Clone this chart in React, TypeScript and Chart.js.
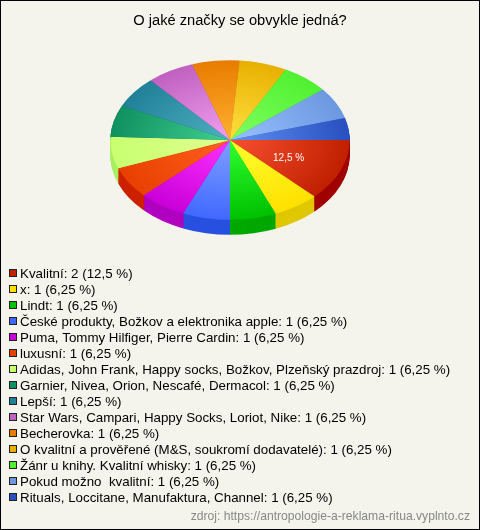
import React, { useEffect, useRef } from "react";
import { Chart, registerables } from "chart.js";

Chart.register(...registerables);

const titleText = "O jaké značky se obvykle jedná?";
const sourceText = "zdroj: https://antropologie-a-reklama-ritua.vyplnto.cz";

const categories = [
  "Kvalitní",
  "x",
  "Lindt",
  "České produkty, Božkov a elektronika apple",
  "Puma, Tommy Hilfiger, Pierre Cardin",
  "luxusní",
  "Adidas, John Frank, Happy socks, Božkov, Plzeňský prazdroj",
  "Garnier, Nivea, Orion, Nescafé, Dermacol",
  "Lepší",
  "Star Wars, Campari, Happy Socks, Loriot, Nike",
  "Becherovka",
  "O kvalitní a prověřené (M&S, soukromí dodavatelé)",
  "Žánr u knihy. Kvalitní whisky",
  "Pokud možno  kvalitní",
  "Rituals, Loccitane, Manufaktura, Channel",
];
const counts = [2, 1, 1, 1, 1, 1, 1, 1, 1, 1, 1, 1, 1, 1, 1];
const percents = ["12,5", "6,25", "6,25", "6,25", "6,25", "6,25", "6,25", "6,25", "6,25", "6,25", "6,25", "6,25", "6,25", "6,25", "6,25"];

// legend colour, also the outer colour of the slice
const edgeColors = ["#c02000", "#ffe000", "#00c000", "#4068ff", "#c800d8", "#e84000", "#c8ff70", "#109060", "#208098", "#c060c0", "#e87c00", "#e8b000", "#50f030", "#6c98e0", "#2850c0"];
const centerColors = ["#f85030", "#ffff30", "#30ff30", "#80a0ff", "#ff30ff", "#ff6020", "#e0ff90", "#40d090", "#50b0c0", "#f0a0f0", "#ffb030", "#ffe040", "#80ff60", "#98c0ff", "#6090f0"];
const sideColors = ["#a00000", "#e0c800", "#00a800", "#2850e0", "#b000c0", "#cc2000", "#a8ee60", "#008040", "#106070", "#a040a0", "#c06000", "#c09000", "#30c020", "#4070c0", "#1838a0"];

const PIE_CX = 230;
const PIE_CY = 140;
const SQUASH = 2 / 3;
const DEPTH = 15;

// the back of the disc looks pushed round by the perspective of the original
const warpAngle = (a: number) => {
  if (a >= Math.PI * 2 - 0.001) return a;
  return a + Math.max(0, a - Math.PI / 2) * 0.026;
};

// turns the flat pie into a tilted disc and draws its rim under it
const tiltPlugin = {
  id: "tilt",
  afterDatasetsUpdate(chart: any) {
    chart.getDatasetMeta(0).data.forEach((arc: any) => {
      arc.startAngle = warpAngle(arc.startAngle);
      arc.endAngle = warpAngle(arc.endAngle);
      arc.circumference = arc.endAngle - arc.startAngle;
    });
  },
  beforeDatasetsDraw(chart: any) {
    const { ctx } = chart;
    const arcs = chart.getDatasetMeta(0).data;
    const first = arcs[0];
    ctx.save();
    ctx.translate(PIE_CX - first.x, PIE_CY);
    ctx.scale(1, SQUASH);
    ctx.translate(0, -first.y);
    for (let d = DEPTH; d >= 1; d--) {
      arcs.forEach((arc: any, i: number) => {
        ctx.beginPath();
        ctx.moveTo(arc.x, arc.y + d / SQUASH);
        ctx.arc(arc.x, arc.y + d / SQUASH, arc.outerRadius, arc.startAngle, arc.endAngle);
        ctx.closePath();
        ctx.fillStyle = sideColors[i];
        ctx.fill();
      });
    }
    ctx.restore();
    ctx.save();
    ctx.translate(PIE_CX - first.x, PIE_CY);
    ctx.scale(1, SQUASH);
    ctx.translate(0, -first.y);
  },
  afterDatasetsDraw(chart: any) {
    const { ctx } = chart;
    ctx.restore();
    const arcs = chart.getDatasetMeta(0).data;
    ctx.font = "10px 'Liberation Sans'";
    ctx.fillStyle = "#ffffff";
    ctx.textAlign = "center";
    ctx.textBaseline = "middle";
    arcs.forEach((arc: any, i: number) => {
      if (counts[i] < 2) return;
      const mid = (arc.startAngle + arc.endAngle) / 2;
      const r = arc.outerRadius * 0.53;
      ctx.fillText(percents[i] + " %", PIE_CX + Math.cos(mid) * r, PIE_CY + 2 + Math.sin(mid) * r * SQUASH);
    });
  },
};

const frameLegendPlugin = {
  id: "frameLegend",
  beforeDraw(chart: any) {
    const { ctx, width, height } = chart;
    ctx.save();
    ctx.fillStyle = "#f4f4ec";
    ctx.fillRect(0, 0, width, height);
    ctx.strokeStyle = "#000000";
    ctx.lineWidth = 1;
    ctx.strokeRect(0.5, 0.5, width - 1, height - 1);
    ctx.restore();
  },
  afterDraw(chart: any) {
    const { ctx, width } = chart;
    ctx.save();
    ctx.textBaseline = "middle";
    ctx.textAlign = "left";
    ctx.font = "13.33px 'Liberation Sans'";
    categories.forEach((name, i) => {
      const y = 273 + i * 16;
      ctx.fillStyle = edgeColors[i];
      ctx.fillRect(9.5, y - 3.5, 7, 7);
      ctx.strokeStyle = "#222222";
      ctx.lineWidth = 1;
      ctx.strokeRect(9.5, y - 3.5, 7, 7);
      ctx.fillStyle = "#000000";
      ctx.fillText(`${name}: ${counts[i]} (${percents[i]} %)`, 20, y + 1);
    });
    ctx.font = "12.15px 'Liberation Sans'";
    ctx.fillStyle = "#888888";
    ctx.textAlign = "right";
    ctx.fillText(sourceText, width - 10, 517);
    ctx.restore();
  },
};

export default function App() {
  const canvasRef = useRef<HTMLCanvasElement>(null);

  useEffect(() => {
    const ctx = canvasRef.current?.getContext("2d");
    if (!ctx) return;
    const chart = new Chart(ctx, {
      type: "pie",
      data: {
        labels: categories,
        datasets: [
          {
            data: counts,
            borderWidth: 0,
            backgroundColor: (c: any) => {
              const area = c.chart.chartArea;
              if (!area) return edgeColors[c.dataIndex];
              const cx = (area.left + area.right) / 2;
              const cy = (area.top + area.bottom) / 2;
              const grad = c.chart.ctx.createRadialGradient(cx, cy, 0, cx, cy, 120);
              grad.addColorStop(0, centerColors[c.dataIndex]);
              grad.addColorStop(1, edgeColors[c.dataIndex]);
              return grad;
            },
          },
        ],
      },
      options: {
        responsive: false,
        animation: false,
        rotation: 90,
        layout: { padding: { left: 120, right: 120, top: 0, bottom: 258 } },
        plugins: {
          legend: { display: false },
          tooltip: { enabled: false },
          title: {
            display: true,
            text: titleText,
            color: "#000000",
            font: { family: "'Liberation Sans'", size: 14.67, weight: "normal" },
            padding: { top: 12, bottom: 3 },
          },
        },
      },
      plugins: [frameLegendPlugin, tiltPlugin],
    } as any);
    return () => chart.destroy();
  }, []);

  return (
    <div style={{ position: "fixed", left: 0, top: 0 }}>
      <canvas ref={canvasRef} width={480} height={530} style={{ display: "block" }} />
    </div>
  );
}
